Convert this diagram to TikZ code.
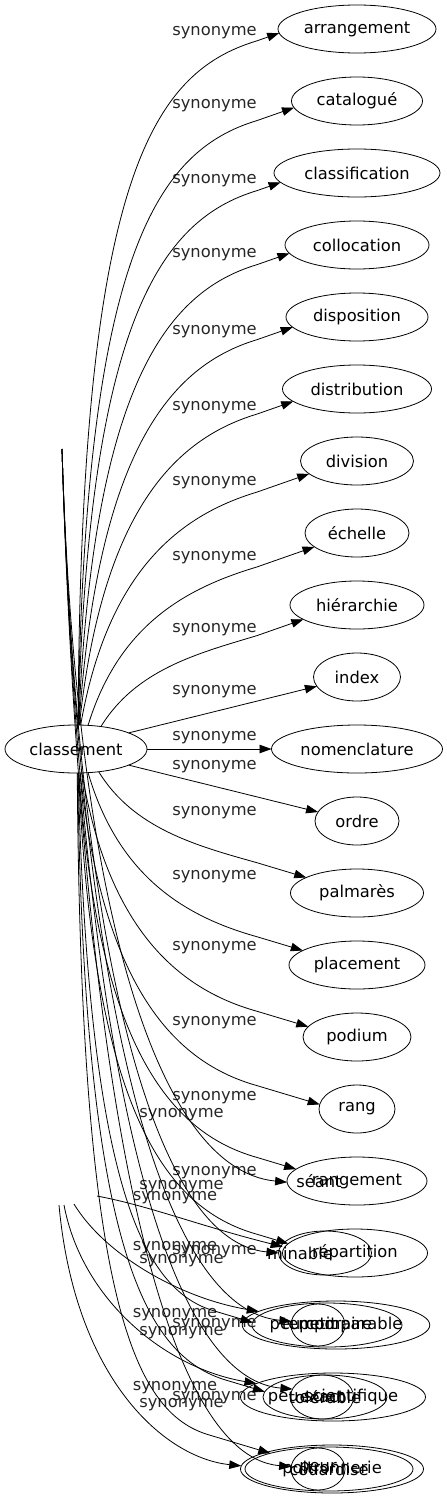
\documentclass[tikz,border=0pt]{standalone}
\usepackage{fontspec}
\setmainfont{DejaVu Sans}
\usetikzlibrary{arrows.meta,shapes.geometric}
\tikzset{
  fnt/.style={font=\fontsize{16.3}{19}\selectfont},
  ell/.style={ellipse, draw, line width=0.8pt, inner sep=0pt, outer sep=0pt, minimum height=48pt, fnt},
  txt/.style={inner sep=0pt, outer sep=0pt, fnt},
  lbl/.style={inner sep=0pt, fnt, text=black!85},
  edge/.style={line width=0.8pt, -{Triangle[length=12pt,width=8.5pt]}},
}
\begin{document}
\begin{tikzpicture}[x=1pt,y=1pt]
\useasboundingbox (0,0) rectangle (447,-1499);
% source node
\node[ell, minimum width=142pt] (cls) at (76,-749) {classement};
% main column
\foreach \i/\t/\w in {0/arrangement/158,1/catalogué/131,2/classification/166,3/collocation/144,4/disposition/142,5/distribution/149,6/division/113,7/échelle/104,8/hiérarchie/134,9/index/87,10/nomenclature/171,11/ordre/84,12/palmarès/133,13/placement/136,14/podium/108,15/rang/76}
  {\node[ell, minimum width=\w*1pt] (n\i) at (357,{-(29+72*\i)}) {\t};}
% overlapping bottom rows
\node[ell, minimum width=140pt] (n16) at (357,-1181) {rangement};
\node[txt] (t16) at (319,-1181) {séant};
\node[ell, minimum width=145pt] (n17) at (355,-1253) {répartition};
\node[ell, minimum width=93pt, minimum height=44pt] (e17) at (325,-1253) {};
\node[txt, inner xsep=24pt] (t17) at (300,-1253) {minable};
\node[ell, minimum width=176pt] (n18) at (336,-1325) {peu comparable};
\node[ell, minimum width=150pt, minimum height=44pt] (m18) at (327,-1325) {temporaire};
\node[ell, minimum width=54pt, minimum height=42pt] (s18) at (318,-1325) {petit};
\node[ell, minimum width=185pt] (n19) at (333,-1397) {peu scientifique};
\node[ell, minimum width=124pt, minimum height=44pt] (m19) at (325,-1397) {tolérable};
\node[ell, minimum width=63pt, minimum height=44pt] (s19) at (322,-1397) {exact};
\node[ell, minimum width=183pt] (n20) at (332,-1469) {poltronnerie};
\node[ell, minimum width=168pt, minimum height=44pt] (m20) at (329,-1469) {couardise};
\node[ell, minimum width=54pt, minimum height=42pt] (s20) at (318,-1469) {peur};
% labels
\foreach \yy [count=\c] in {33,106,181,255,332,408,483,558,630,692,738,767,813,877,948,1023,1098,1173,1252,1325,1398}
  {\node[lbl] (la\c) at (214.5,-\yy) {synonyme};}
\foreach \yy [count=\c] in {1115,1187,1261,1333,1405}
  {\node[lbl] (lb\c) at (181.5,-\yy) {synonyme};}
\foreach \yy [count=\c] in {1198,1248,1315,1388}
  {\node[lbl] (lc\c) at (175,-\yy) {synonyme};}
% upper edges
\foreach \nn/\qcy/\qrx/\qsa/\qea in {n0/29/79/85/183, n1/101/65.5/85/186, n2/173/83/85/187, n3/245/72/84/187, n4/317/71/83/189, n5/389/74.5/82/191, n6/461/56.5/79/195, n7/533/52/63/198, n8/605/67/42/195}{
  \pgfmathsetmacro\qrr{\qrx*24/sqrt((24*cos(\qea))^2+(\qrx*sin(\qea))^2)}
  \pgfmathsetmacro\qtx{357+\qrr*cos(\qea)}
  \pgfmathsetmacro\qty{-\qcy+\qrr*sin(\qea)}
  \pgfmathsetmacro\qrs{71*24/sqrt((24*cos(\qsa))^2+(71*sin(\qsa))^2)}
  \pgfmathsetmacro\qsx{76+\qrs*cos(\qsa)}
  \pgfmathsetmacro\qsy{-749+\qrs*sin(\qsa)}
  \pgfmathsetmacro\qvx{257}
  \pgfmathsetmacro\qvy{\qty-0.35*(\qtx-\qvx)}
  \pgfmathsetmacro\qdd{\qvy-\qsy}
  \pgfmathsetmacro\qax{\qsx+40-0.055*\qdd}
  \pgfmathsetmacro\qay{\qsy+(0.6+0.2*\qdd/700)*\qdd}
  \pgfmathsetmacro\qll{(0.35+0.25*\qdd/700)*(\qvx-\qsx)}
  \pgfmathsetmacro\qbx{\qvx-\qll}
  \pgfmathsetmacro\qby{\qvy-0.3*\qll}
  \draw[edge] (cls.\qsa) .. controls (\qax,\qay) and (\qbx,\qby) .. (\qvx,\qvy) -- (\nn.\qea);
}
% straight middle edges
\draw[edge] (cls.17) -- (n9.193);
\draw[edge] (cls.east) -- (n10.west);
\draw[edge] (cls.-17) -- (n11.167);
% lower edges
\foreach \nn/\qcx/\qcy/\qrx/\qry/\qsa/\qea/\qvx in {n12/357/893/66.5/24/-45/163/257, n13/357/965/68/24/-63/165/257, n14/357/1037/54/24/-76/168/257, n15/357/1109/38/24/-80/173/257, n16/357/1181/70/24/-83/169/257, n17/355/1253/72.5/24/-84/172/257, m18/327/1325/75/22/-85/178/215, m19/325/1397/62/22/-86/175/228, m20/329/1469/84/22/-87/165/210}{
  \pgfmathsetmacro\qrr{\qrx*\qry/sqrt((\qry*cos(\qea))^2+(\qrx*sin(\qea))^2)}
  \pgfmathsetmacro\qtx{\qcx+\qrr*cos(\qea)}
  \pgfmathsetmacro\qty{-\qcy+\qrr*sin(\qea)}
  \pgfmathsetmacro\qrs{71*24/sqrt((24*cos(\qsa))^2+(71*sin(\qsa))^2)}
  \pgfmathsetmacro\qsx{76+\qrs*cos(\qsa)}
  \pgfmathsetmacro\qsy{-749+\qrs*sin(\qsa)}
  \pgfmathsetmacro\qvy{\qty+0.3*(\qtx-\qvx)}
  \pgfmathsetmacro\qdd{\qsy-\qvy}
  \pgfmathsetmacro\qax{\qsx+40-0.055*\qdd}
  \pgfmathsetmacro\qay{\qsy-(0.6+0.2*\qdd/700)*\qdd}
  \pgfmathsetmacro\qll{(0.35+0.25*\qdd/700)*(\qvx-\qsx)}
  \pgfmathsetmacro\qbx{\qvx-\qll}
  \pgfmathsetmacro\qby{\qvy+0.28*\qll}
  \draw[edge] (cls.\qsa) .. controls (\qax,\qay) and (\qbx,\qby) .. (\qvx,\qvy) -- (\nn.\qea);
}
% edges from the upper free point
\coordinate (btop) at (62,-449);
\foreach \nn/\qea/\qtx/\qty in {n16/181/287/1181, e17/180/278/1253, s18/172/292/1321, s19/165/291/1389, s20/175/292/1467}{
  \pgfmathsetmacro\qpy{449+0.6*(\qty-449)}
  \pgfmathsetmacro\qpx{62+0.03*(\qpy-449)}
  \pgfmathsetmacro\qqx{\qtx-0.6*(\qtx-62)}
  \pgfmathsetmacro\qqy{\qty-12}
  \draw[edge] (btop) .. controls (\qpx,-\qpy) and (\qqx,-\qqy) .. (\nn.\qea);
}
% edges from the lower free points
\coordinate (c1) at (97,-1196);
\coordinate (c2) at (74,-1204);
\coordinate (c3) at (64,-1205);
\coordinate (c4) at (59,-1205);
\draw[edge] (c1) .. controls (150,-1206) and (200,-1226) .. (t17.160);
\draw[edge] (c2) .. controls (105,-1255) and (180,-1298) .. (n18.170);
\draw[edge] (c3) .. controls (82,-1300) and (165,-1368) .. (n19.170);
\draw[edge] (c4) .. controls (75,-1380) and (165,-1458) .. (n20.178);
\end{tikzpicture}
\end{document}
